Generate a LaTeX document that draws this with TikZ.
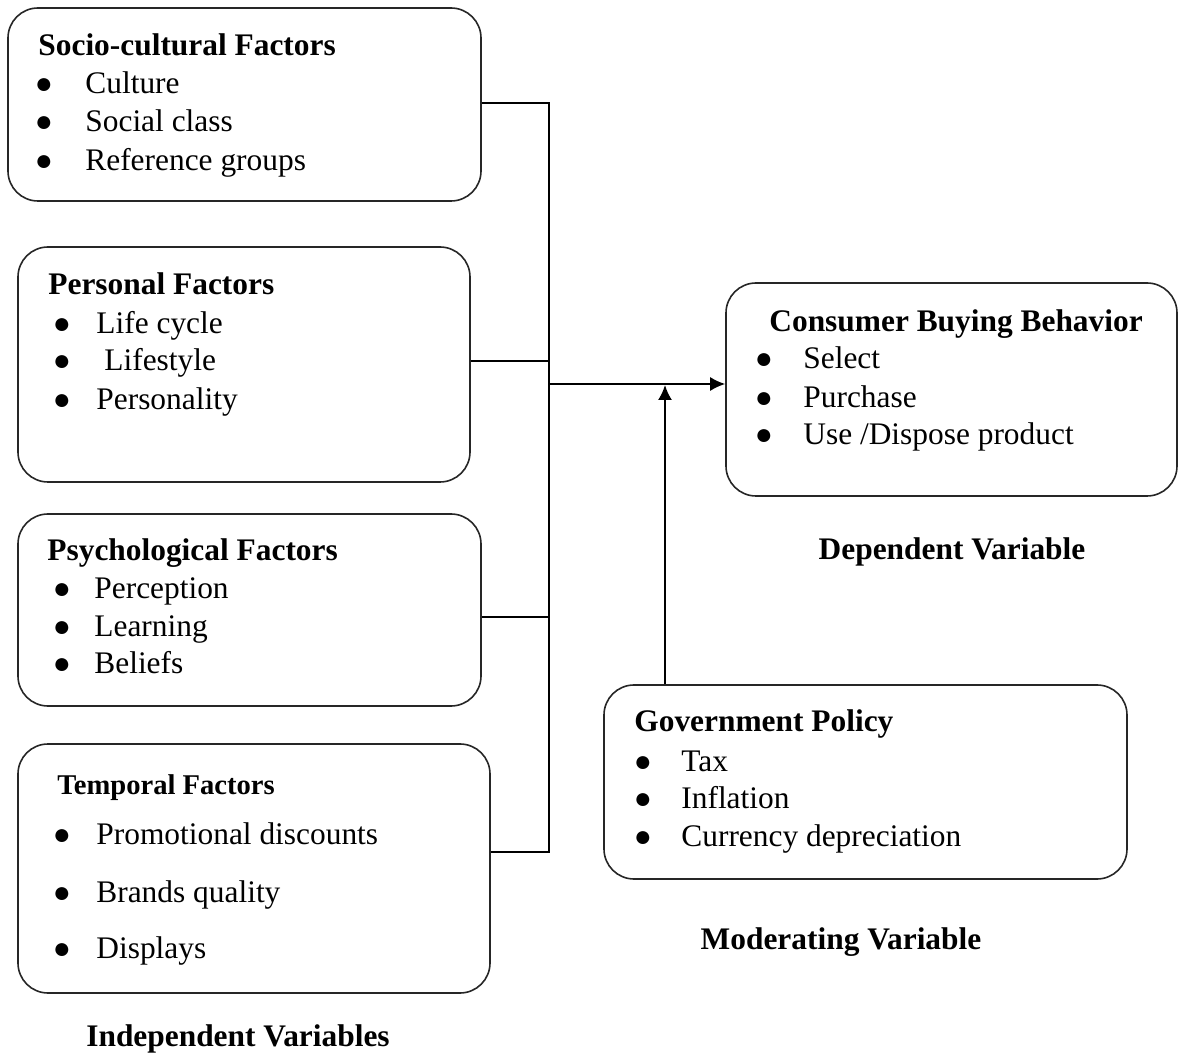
\documentclass[tikz,border=0pt]{standalone}
\usepackage{fontspec}
\setmainfont{Liberation Serif}
\usetikzlibrary{fit,arrows.meta}
\begin{document}
\begin{tikzpicture}[x=0.5pt,y=-0.5pt,
  box/.style={draw=black!85,line width=0.8pt,rounded corners=15pt,inner sep=0pt},
  ttl/.style={anchor=base west,inner sep=0pt,font=\fontsize{15.7}{19}\bfseries\selectfont},
  ttls/.style={anchor=base west,inner sep=0pt,font=\fontsize{14.3}{17}\bfseries\selectfont},
  itm/.style={anchor=base west,inner sep=0pt,font=\fontsize{15.7}{19}\selectfont},
  bul/.style={anchor=base,inner sep=0pt,font=\fontsize{15}{17}\selectfont},
  lbl/.style={anchor=base,inner sep=0pt,font=\fontsize{15.7}{19}\bfseries\selectfont},
  conn/.style={line width=0.9pt,black},
  arr/.style={conn,-{Latex[length=7.5pt,width=7pt]}}]
\useasboundingbox (0,0) rectangle (1179,1053);
% boxes
\node[box,fit={(8,8)(481,201)}] (b1) {};
\node[box,fit={(18,247)(470,482)}] (b2) {};
\node[box,fit={(18,514)(481,706)}] (b3) {};
\node[box,fit={(18,744)(490,993)}] (b4) {};
\node[box,fit={(726,283)(1177,496)}] (b5) {};
\node[box,fit={(604,685)(1127,879)}] (b6) {};
% box 1
\node[ttl] (t1) at (38,56) {Socio-cultural Factors};
\node[bul] (p1a) at (44,94) {●}; \node[itm] (t1a) at (85,94) {Culture};
\node[bul] (p1b) at (44,132) {●}; \node[itm] (t1b) at (85,132) {Social class};
\node[bul] (p1c) at (44,171) {●}; \node[itm] (t1c) at (85,171) {Reference groups};
% box 2
\node[ttl] (t2) at (48,295) {Personal Factors};
\node[bul] (p2a) at (62,334) {●}; \node[itm] (t2a) at (96,334) {Life cycle};
\node[bul] (p2b) at (62,371) {●}; \node[itm] (t2b) at (104,371) {Lifestyle};
\node[bul] (p2c) at (62,410) {●}; \node[itm] (t2c) at (96,410) {Personality};
% box 3
\node[ttl] (t3) at (47,561) {Psychological Factors};
\node[bul] (p3a) at (62,599) {●}; \node[itm] (t3a) at (94,599) {Perception};
\node[bul] (p3b) at (62,637) {●}; \node[itm] (t3b) at (94,637) {Learning};
\node[bul] (p3c) at (62,674) {●}; \node[itm] (t3c) at (94,674) {Beliefs};
% box 4
\node[ttls] (t4) at (57,794) {Temporal Factors};
\node[bul] (p4a) at (62,844) {●}; \node[itm] (t4a) at (96,844) {Promotional discounts};
\node[bul] (p4b) at (62,902) {●}; \node[itm] (t4b) at (96,902) {Brands quality};
\node[bul] (p4c) at (62,958) {●}; \node[itm] (t4c) at (96,958) {Displays};
% box 5
\node[ttl] (t5) at (769,332) {Consumer Buying Behavior};
\node[bul] (p5a) at (764,369) {●}; \node[itm] (t5a) at (803,369) {Select};
\node[bul] (p5b) at (764,408) {●}; \node[itm] (t5b) at (803,408) {Purchase};
\node[bul] (p5c) at (764,445) {●}; \node[itm] (t5c) at (803,445) {Use /Dispose product};
% box 6
\node[ttl] (t6) at (634,731) {Government Policy};
\node[bul] (p6a) at (643,771) {●}; \node[itm] (t6a) at (681,771) {Tax};
\node[bul] (p6b) at (643,808) {●}; \node[itm] (t6b) at (681,808) {Inflation};
\node[bul] (p6c) at (643,846) {●}; \node[itm] (t6c) at (681,846) {Currency depreciation};
% labels
\node[lbl] (l1) at (952,560) {Dependent Variable};
\node[lbl] (l2) at (841,949) {Moderating Variable};
\node[lbl] (l3) at (238,1046) {Independent Variables};
% connectors
\coordinate (j1) at (549,103);
\coordinate (j2) at (549,361);
\coordinate (j3) at (549,617);
\coordinate (j4) at (549,852);
\coordinate (jm) at (549,384);
\coordinate (gx) at (665,385);
\draw[conn] (b1.east |- j1) -- (j1) -- (j4) -- (b4.east |- j4);
\draw[conn] (b2.east |- j2) -- (j2);
\draw[conn] (b3.east |- j3) -- (j3);
\draw[arr] (jm) -- (b5.west |- jm);
\draw[arr] (b6.north -| gx) -- (gx);
\end{tikzpicture}
\end{document}
